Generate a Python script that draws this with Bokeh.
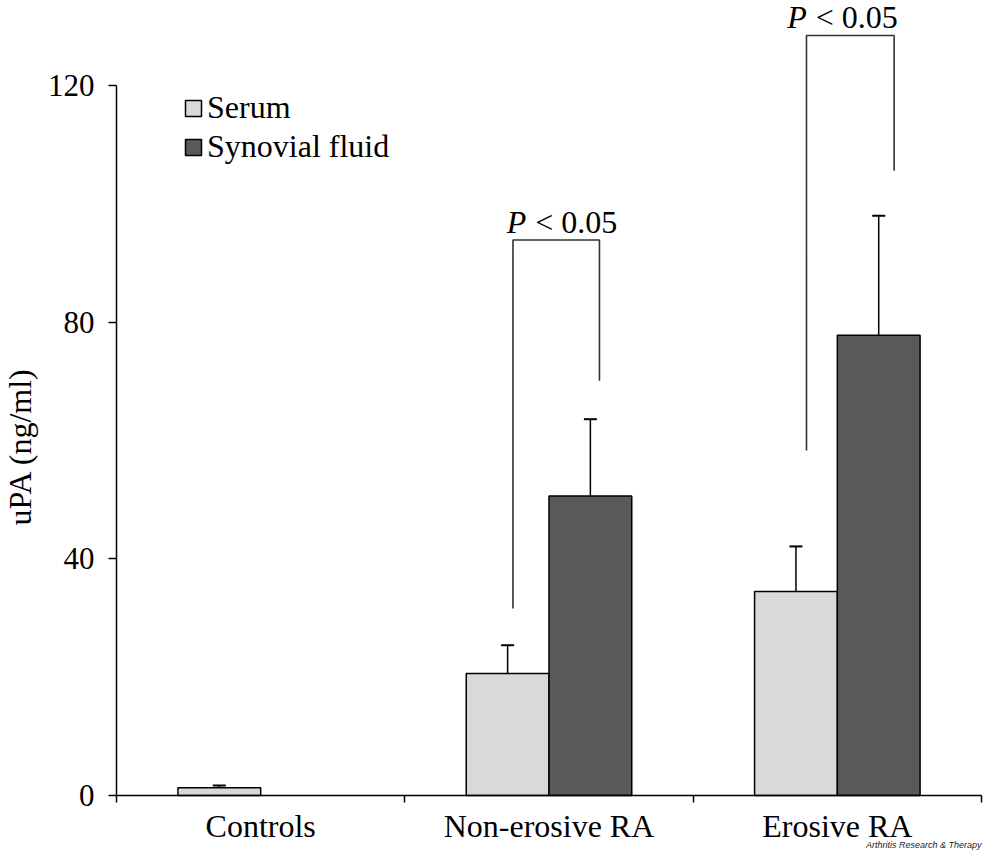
import math
from bokeh.plotting import figure
from bokeh.models import (ColumnDataSource, FixedTicker, Whisker, TeeHead, Legend,
                          LegendItem, Range1d)
from bokeh.core.properties import value
from bokeh.embed import file_html
from bokeh.resources import INLINE

# ---- data ----
categories = ["Controls", "Non-erosive RA", "Erosive RA"]
serum = [1.3, 20.6, 34.5]
serum_err = [0.4, 4.8, 7.6]
synovial = [0.0, 50.6, 77.8]
synovial_err = [0.0, 13.0, 20.2]
y_ticks = [0, 40, 80, 120]
y_label = "uPA (ng/ml)"
p_italic = "P"
p_rest = "< 0.05"
watermark = "Arthritis Research & Therapy"

# ---- annotation geometry (category units / value units) ----
bracket_x = [[1.375, 1.375, 1.675, 1.675], [2.393, 2.393, 2.697, 2.697]]
bracket_y = [[31.6, 93.9, 93.9, 70.1], [58.3, 128.45, 128.45, 105.6]]
p_italic_x = [1.421, 2.394]
p_rest_x = [1.452, 2.425]
p_y = [96.85, 131.5]

SERIF = "Liberation Serif"
centers = [i + 0.5 for i in range(len(categories))]
dodge = 0.1435
bw = 0.287

serum_src = ColumnDataSource(dict(
    x=[c - dodge for c in centers], top=serum,
    up=[v + e for v, e in zip(serum, serum_err)]))
sf_idx = [i for i, v in enumerate(synovial) if v > 0]
sf_src = ColumnDataSource(dict(
    x=[centers[i] + dodge for i in sf_idx], top=[synovial[i] for i in sf_idx],
    up=[synovial[i] + synovial_err[i] for i in sf_idx]))

# canvas geometry: 984 x 852, axis origin at canvas (116, 795)
W, H = 984, 852
ox, oy = 116.0, 795.0
cw = (981.0 - ox) / 3.0      # px per category
ys = (oy - 85.0) / 120.0     # px per unit
x_range = Range1d(-ox / cw, (W - ox) / cw)
y_range = Range1d(-(H - oy) / ys, oy / ys)

p = figure(width=W, height=H, output_backend="svg", toolbar_location=None,
           x_range=x_range, y_range=y_range,
           min_border=0, min_border_left=0, min_border_right=0,
           min_border_top=0, min_border_bottom=0)
p.outline_line_color = None
p.xgrid.visible = False
p.ygrid.visible = False
p.background_fill_color = "white"
p.border_fill_color = "white"

r_serum = p.vbar(x="x", top="top", bottom=0, width=bw, source=serum_src,
                 fill_color="#d9d9d9", line_color="black", line_width=1.5)
r_sf = p.vbar(x="x", top="top", bottom=0, width=bw, source=sf_src,
              fill_color="#595959", line_color="black", line_width=1.5)

for src in (serum_src, sf_src):
    w = Whisker(source=src, base="x", lower="top", upper="up", dimension="height",
                line_color="black", line_width=1.5, lower_head=None,
                upper_head=TeeHead(size=13, line_color="black", line_width=2))
    p.add_layout(w)

# significance brackets
p.multi_line(xs=bracket_x, ys=bracket_y, line_color="#333333", line_width=1.6)
p.text(x=p_italic_x, y=p_y, text=[p_italic] * 2, text_align="right",
       text_baseline="alphabetic", text_font=value(SERIF), text_font_style="italic",
       text_font_size="32px", text_color="black")
p.text(x=p_rest_x, y=p_y, text=[p_rest] * 2, text_align="left",
       text_baseline="alphabetic", text_font=value(SERIF),
       text_font_size="32px", text_color="black")

# axes, fixed at the origin
xa = p.xaxis[0]
xa.fixed_location = 0
xa.bounds = (0, 3)
xa.ticker = FixedTicker(ticks=centers, minor_ticks=[0, 1, 2, 3])
xa.major_label_overrides = {c: n for c, n in zip(centers, categories)}
xa.major_tick_out = 0
xa.major_tick_in = 0
xa.minor_tick_out = 7
xa.minor_tick_in = 0
xa.minor_tick_line_color = "black"
xa.minor_tick_line_width = 1.5
xa.axis_line_color = "black"
xa.axis_line_width = 1.5
xa.major_label_text_font = SERIF
xa.major_label_text_font_size = "32px"
xa.major_label_text_color = "black"
xa.major_label_standoff = 5

ya = p.yaxis[0]
ya.fixed_location = 0
ya.bounds = (0, 120)
ya.ticker = FixedTicker(ticks=y_ticks, minor_ticks=[])
ya.axis_line_color = "black"
ya.axis_line_width = 1.5
ya.major_tick_out = 8
ya.major_tick_in = 0
ya.major_tick_line_color = "black"
ya.major_tick_line_width = 1.5
ya.major_label_text_font = SERIF
ya.major_label_text_font_size = "31px"
ya.major_label_text_color = "black"
ya.major_label_standoff = 14

# y-axis title
p.text(x=[(19.5 - ox) / cw], y=[(oy - 446.0) / ys], text=[y_label],
       angle=math.pi / 2, text_align="center", text_baseline="middle",
       text_font=value(SERIF), text_font_size="32px", text_color="black")

legend = Legend(items=[LegendItem(label="Serum", renderers=[r_serum]),
                       LegendItem(label="Synovial fluid", renderers=[r_sf])],
                location=(183, 687), orientation="vertical",
                glyph_width=20, glyph_height=20, label_height=20,
                label_standoff=4, spacing=2, padding=0, margin=0,
                border_line_color=None, background_fill_alpha=0,
                label_text_font=SERIF, label_text_font_size="32px",
                label_text_color="black")
p.add_layout(legend, "center")

p.text(x=[3.0], y=[-(844.5 - oy) / ys], text=[watermark], text_align="right",
       text_baseline="alphabetic", text_font=value("Liberation Sans"),
       text_font_style="italic", text_font_size="9px", text_color="#222222")

open("out.html", "w").write(file_html(p, INLINE))
